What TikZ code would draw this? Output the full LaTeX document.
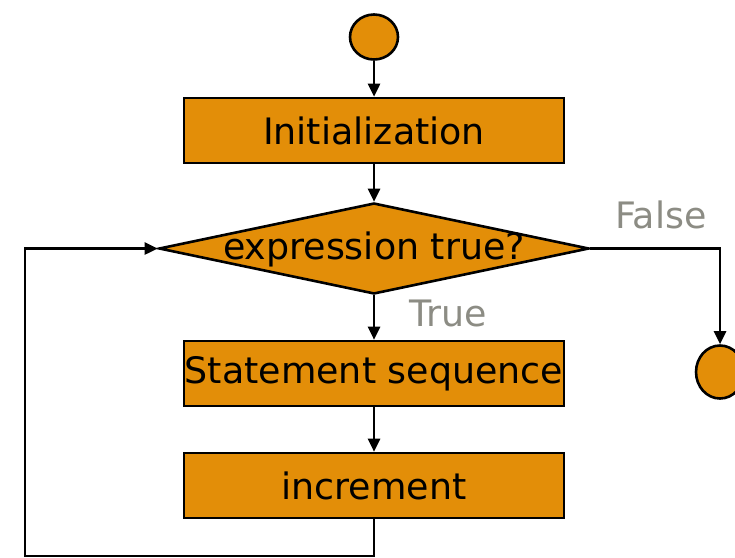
\documentclass[tikz,border=0pt]{standalone}
\usepackage{fontspec}
\setmainfont{DejaVu Sans}
\usetikzlibrary{shapes.geometric,arrows.meta}
\definecolor{boxfill}{RGB}{227,142,8}
\definecolor{labelgray}{RGB}{140,140,132}
\begin{document}
\begin{tikzpicture}[x=1pt,y=-1pt,
  every node/.style={font=\fontsize{36.4}{40}\selectfont},
  stepbox/.style={draw=black,line width=2.6pt,fill=boxfill,rectangle,
    minimum width=380pt,minimum height=65pt,inner sep=0pt},
  terminal/.style={draw=black,line width=2.6pt,fill=boxfill,ellipse,inner sep=0pt},
  decision/.style={draw=black,line width=2.6pt,fill=boxfill,diamond,inner sep=0pt,
    minimum width=430pt,minimum height=91pt},
  flow/.style={line width=2.6pt,-{Triangle[width=12pt,length=13pt]}},
  branch/.style={text=labelgray}]
\useasboundingbox (0,0) rectangle (735,557);

% shapes of the flowchart
\node[terminal,minimum width=48pt,minimum height=45pt] (start) at (374,37) {};
\node[stepbox] (init) at (374,130.5) {Initialization};
\node[decision] (cond) at (374,248.5) {};
\node (condtext) at (374,249) {expression true?};
\node[stepbox] (body) at (374,373.5) {Statement sequence};
\node[stepbox] (incr) at (374,485.5) {increment};
\node[terminal,minimum width=48pt,minimum height=53pt] (stop) at (720,372) {};

% branch labels
\node[branch] (lfalse) at (661,215) {False};
\node[branch] (ltrue) at (448,313) {True};

% connectors
\coordinate (loopcorner) at (25,556);
\draw[flow] (start) -- (init);
\draw[flow] (init) -- (cond);
\draw[flow] (cond) -- (body);
\draw[flow] (body) -- (incr);
\draw[flow] (incr.south) |- (loopcorner) |- (cond.west);
\draw[flow] (cond.east) -| (stop.north);
\end{tikzpicture}
\end{document}
